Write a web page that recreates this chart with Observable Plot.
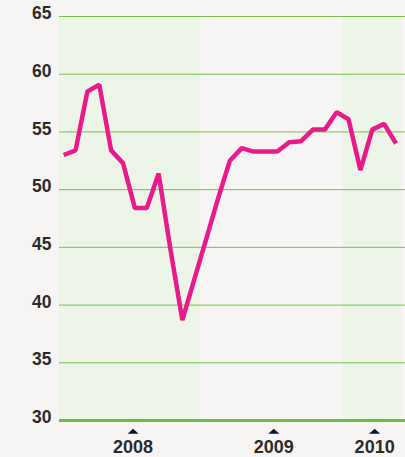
<!DOCTYPE html>
<html>
<head>
<meta charset="utf-8">
<script src="https://cdn.jsdelivr.net/npm/d3@7"></script>
<script src="https://cdn.jsdelivr.net/npm/@observablehq/plot@0.6"></script>
<style>
  html, body { margin: 0; padding: 0; background: #f7f5f4; }
  #chart svg { display: block; }
</style>
</head>
<body>
<div id="chart"></div>
<script>
// Monthly values, Jan 2008 .. May 2010
const months = [
  "2008-01","2008-02","2008-03","2008-04","2008-05","2008-06","2008-07","2008-08","2008-09","2008-10","2008-11","2008-12",
  "2009-01","2009-02","2009-03","2009-04","2009-05","2009-06","2009-07","2009-08","2009-09","2009-10","2009-11","2009-12",
  "2010-01","2010-02","2010-03","2010-04","2010-05"
];
const values = [
  53.0, 53.4, 58.5, 59.1, 53.4, 52.3, 48.4, 48.4, 51.4, 44.8, 38.7, 42.2,
  45.7, 49.2, 52.5, 53.6, 53.3, 53.3, 53.3, 54.1, 54.2, 55.2, 55.2, 56.7,
  56.1, 51.7, 55.2, 55.7, 54.0
];
// shaded years (month-index bounds)
const shadeStart = [-0.5, 23.5];
const shadeEnd = [11.5, 28.55];
// x tick labels and their month-index positions
const tickLabels = ["2008", "2009", "2010"];
const tickAt = [5.85, 17.7, 26.2];
// y gridlines / tick values
const yTicks = [30, 35, 40, 45, 50, 55, 60, 65];

const series = values.map((v, i) => ({month: months[i], i, v}));
const shades = shadeStart.map((s, k) => ({x1: s, x2: shadeEnd[k]}));
const xticks = tickAt.map((t, k) => ({x: t, label: tickLabels[k]}));

const flatTriangle = {
  draw(context) {
    context.moveTo(-5.5, 2.6);
    context.lineTo(5.5, 2.6);
    context.lineTo(0, -2.6);
    context.closePath();
  }
};

const font = "'Liberation Sans', Arial, Helvetica, sans-serif";

const chart = Plot.plot({
  width: 405,
  height: 457,
  marginLeft: 59,
  marginRight: 0,
  marginTop: 16,
  marginBottom: 37,
  style: {background: "#f7f5f4", fontFamily: font, overflow: "visible"},
  x: {domain: [-0.35, 28.8], axis: null},
  y: {domain: [30, 65], axis: null},
  marks: [
    Plot.rect(shades, {x1: "x1", x2: "x2", fill: "#edf4e8", clip: true}),
    Plot.ruleY(yTicks.filter(d => d !== 30), {stroke: "#79c149", strokeWidth: 1}),
    Plot.ruleY([30], {stroke: "#6dbd45", strokeWidth: 3}),
    Plot.line(series, {x: "i", y: "v", stroke: "#ea1a8b", strokeWidth: 4.5, strokeLinejoin: "miter", strokeLinecap: "butt"}),
    Plot.axisY(yTicks, {label: null, tickSize: 0, tickPadding: 8, fontSize: 17.5, fontWeight: "bold", fill: "#2b2b2b", dy: -3, tickFormat: d => String(d)}),
    Plot.dot(xticks, {x: "x", y: () => 29.07, symbol: flatTriangle, fill: "#0e1230", stroke: null}),
    Plot.text(xticks, {x: "x", text: "label", frameAnchor: "bottom", dy: 27, fontSize: 18, fontWeight: "bold", fill: "#2b2b2b", lineAnchor: "middle"})
  ]
});
document.getElementById("chart").appendChild(chart);
</script>
</body>
</html>
